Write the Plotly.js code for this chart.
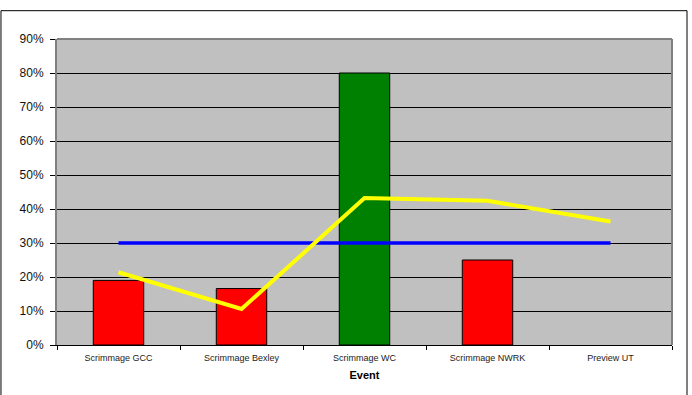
<!DOCTYPE html>
<html>
<head>
<meta charset="utf-8">
<script src="https://cdn.plot.ly/plotly-3.0.1.min.js"></script>
<style>
  html, body { margin: 0; padding: 0; background: #fff; }
  #chart { width: 692px; height: 395px; }
</style>
</head>
<body>
<div id="chart"></div>
<script>
const categories = ['Scrimmage GCC', 'Scrimmage Bexley', 'Scrimmage WC', 'Scrimmage NWRK', 'Preview UT'];
const barValues = [0.19, 0.166, 0.80, 0.25, null];
const yellowValues = [0.214, 0.106, 0.432, 0.424, 0.363];
const blueValues = [0.30, 0.30, 0.30, 0.30, 0.30];
const yTickVals = [0, 0.1, 0.2, 0.3, 0.4, 0.5, 0.6, 0.7, 0.8, 0.9];
const yTickText = ['0%', '10%', '20%', '30%', '40%', '50%', '60%', '70%', '80%', '90%'];

const barColors = ['#FF0000', '#FF0000', '#008000', '#FF0000', '#FF0000'];

const traces = [
  {
    type: 'bar', x: categories, y: barValues,
    width: 0.41,
    marker: { color: barColors, line: { color: '#000000', width: 1 } },
    hoverinfo: 'skip'
  },
  {
    type: 'scatter', mode: 'lines', x: categories, y: blueValues,
    line: { color: '#0000FF', width: 3.5 }, hoverinfo: 'skip'
  },
  {
    type: 'scatter', mode: 'lines', x: categories, y: yellowValues,
    line: { color: '#FFFF00', width: 4 }, hoverinfo: 'skip'
  }
];

const layout = {
  width: 692, height: 395,
  margin: { l: 57, r: 20, t: 39, b: 50, pad: 0 },
  paper_bgcolor: '#FFFFFF',
  plot_bgcolor: '#C0C0C0',
  showlegend: false,
  font: { family: 'Liberation Sans, Arial, sans-serif', color: '#000000' },
  xaxis: {
    type: 'category',
    tickson: 'boundaries',
    ticks: 'outside', ticklen: 4, tickcolor: '#000000', tickwidth: 1,
    ticklabelstandoff: 4,
    showgrid: false,
    showline: true, linecolor: '#000000', linewidth: 1,
    tickfont: { size: 9, family: 'Liberation Sans, Arial, sans-serif', color: '#222222' },
    title: { text: '<b>Event</b>', font: { size: 11, family: 'Liberation Sans, Arial, sans-serif' }, standoff: 9 },
    zeroline: false,
    fixedrange: true
  },
  yaxis: {
    range: [0, 0.9],
    tickvals: yTickVals, ticktext: yTickText,
    ticks: 'outside', ticklen: 5, tickcolor: '#000000', tickwidth: 1,
    ticklabelstandoff: 4,
    showgrid: true, gridcolor: '#000000', gridwidth: 1,
    showline: true, linecolor: '#808080', linewidth: 2,
    zeroline: false,
    tickfont: { size: 12, family: 'Liberation Sans, Arial, sans-serif', color: '#111111' },
    fixedrange: true
  },
  shapes: [
    { type: 'line', xref: 'paper', yref: 'paper', x0: 0, x1: 1, y0: 1, y1: 1,
      line: { color: '#808080', width: 2 } },
    { type: 'line', xref: 'paper', yref: 'paper', x0: 1, x1: 1, y0: 0, y1: 1,
      line: { color: '#808080', width: 2 } },
    { type: 'rect', xref: 'paper', yref: 'paper',
      x0: -0.0911, x1: 1.0244, y0: -0.2, y1: 1.0925,
      line: { color: '#000000', width: 1 }, fillcolor: 'rgba(0,0,0,0)' }
  ]
};

Plotly.newPlot('chart', traces, layout, { displayModeBar: false, staticPlot: true });
</script>
</body>
</html>
